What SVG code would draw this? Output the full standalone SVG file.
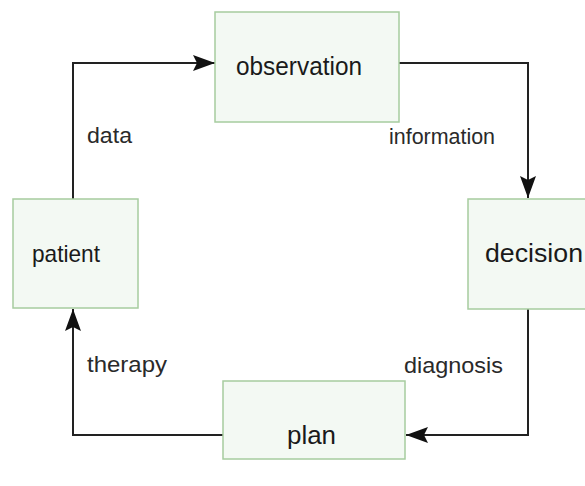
<svg xmlns="http://www.w3.org/2000/svg" width="585" height="486" viewBox="0 0 585 486">
  <style>
    .box { fill: #f3f9f3; stroke: #a6cc9f; stroke-width: 1.5; }
    .node { font-family: "Liberation Sans", Arial, sans-serif; fill: #1a1a1a; }
    .lbl { font-family: "Liberation Sans", Arial, sans-serif; font-size: 21.5px; fill: #2a2a2a; }
    .wire { fill: none; stroke: #222; stroke-width: 2; }
  </style>
  <defs>
    <marker id="arrow" markerUnits="userSpaceOnUse" markerWidth="22" markerHeight="16" viewBox="0 0 22 16" refX="22" refY="8" orient="auto">
      <path d="M0,0 L22,8 L0,16 L4,8 Z" fill="#111"/>
    </marker>
  </defs>
  <rect width="585" height="486" fill="#ffffff"/>

  <g id="connectors">
    <path class="wire" d="M73,199 V63 H215" marker-end="url(#arrow)"/>
    <path class="wire" d="M399,63 H528 V198" marker-end="url(#arrow)"/>
    <path class="wire" d="M528,309 V435 H406" marker-end="url(#arrow)"/>
    <path class="wire" d="M223,435 H73 V309" marker-end="url(#arrow)"/>
    <text class="lbl" x="87" y="143" textLength="45" lengthAdjust="spacingAndGlyphs">data</text>
    <text class="lbl" x="389" y="144" textLength="106" lengthAdjust="spacingAndGlyphs">information</text>
    <text class="lbl" x="404" y="373" textLength="99" lengthAdjust="spacingAndGlyphs">diagnosis</text>
    <text class="lbl" x="87" y="372" textLength="80" lengthAdjust="spacingAndGlyphs">therapy</text>
  </g>

  <g id="observation">
    <rect class="box" x="215" y="12" width="184" height="110"/>
    <text class="node" x="236" y="75" font-size="25" textLength="126" lengthAdjust="spacingAndGlyphs">observation</text>
  </g>
  <g id="patient">
    <rect class="box" x="13" y="199" width="125" height="109"/>
    <text class="node" x="32" y="262" font-size="24" textLength="68" lengthAdjust="spacingAndGlyphs">patient</text>
  </g>
  <g id="decision">
    <rect class="box" x="468" y="199" width="130" height="110"/>
    <text class="node" x="485" y="262" font-size="26" textLength="98" lengthAdjust="spacingAndGlyphs">decision</text>
  </g>
  <g id="plan">
    <rect class="box" x="223" y="381" width="182" height="78"/>
    <text class="node" x="287" y="444" font-size="26" textLength="49" lengthAdjust="spacingAndGlyphs">plan</text>
  </g>
</svg>
